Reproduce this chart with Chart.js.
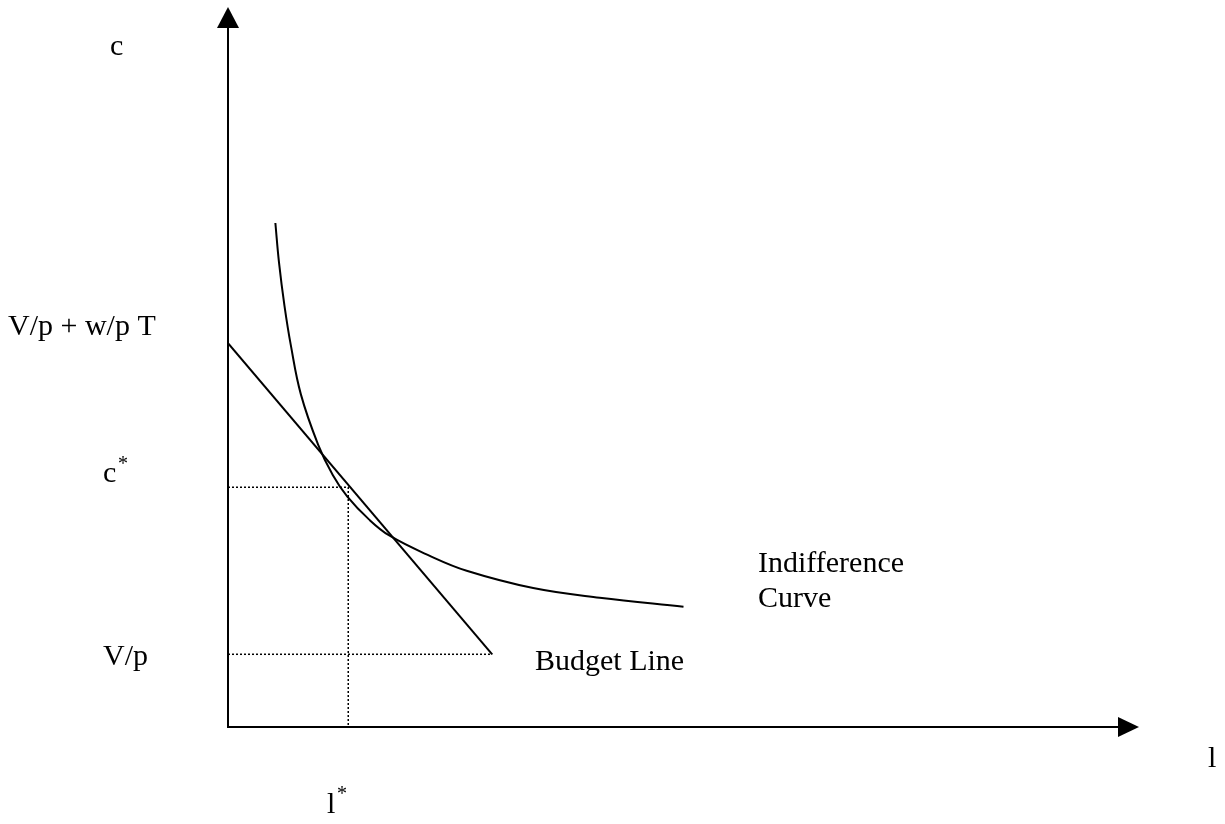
<!DOCTYPE html>
<html>
<head>
<meta charset="utf-8">
<script src="https://cdn.jsdelivr.net/npm/chart.js@4.4.1/dist/chart.umd.min.js"></script>
<style>
  html, body { margin: 0; padding: 0; background: #fff; }
  #wrap { width: 1225px; height: 824px; }
</style>
</head>
<body>
<div id="wrap"><canvas id="chart" width="1225" height="824"></canvas></div>
<script>
// leisure (l) on x, consumption (c) on y, arbitrary units 0..100
const budgetL = [0, 29];
const budgetC = [53.3, 10.1];

const indiffL = [5.2, 5.6, 6.2, 6.9, 8.0, 9.9, 11.5, 13.1, 15.5, 17.7, 22.1, 26.2, 33.5, 40.8, 50.0];
const indiffC = [70.0, 64.5, 58.5, 53.0, 46.2, 39.2, 35.0, 32.0, 28.8, 26.6, 23.8, 21.7, 19.3, 17.95, 16.7];

const optimumL = 13.2;   // l*
const optimumC = 33.3;   // c*
const nonLabour = 10.1;  // V/p

const axisMax = 100;

const toPoints = (xs, ys) => xs.map((x, i) => ({ x: x, y: ys[i] }));

const serif = '"Liberation Serif", "Times New Roman", serif';

// arrows + text drawn on top of the chart area
const sketchPlugin = {
  id: 'sketch',
  afterDatasetsDraw(chart) {
    const ctx = chart.ctx;
    const xs = chart.scales.x;
    const ys = chart.scales.y;
    const x0 = xs.getPixelForValue(0);
    const y0 = ys.getPixelForValue(0);
    const xEnd = xs.getPixelForValue(axisMax);
    const yEnd = ys.getPixelForValue(axisMax);

    ctx.save();
    ctx.strokeStyle = '#000';
    ctx.fillStyle = '#000';
    ctx.lineWidth = 2;

    // axes
    ctx.beginPath();
    ctx.moveTo(x0, yEnd + 20);
    ctx.lineTo(x0, y0);
    ctx.lineTo(xEnd - 20, y0);
    ctx.stroke();

    // arrow heads
    ctx.beginPath();
    ctx.moveTo(x0, yEnd);
    ctx.lineTo(x0 - 11, yEnd + 21);
    ctx.lineTo(x0 + 11, yEnd + 21);
    ctx.closePath();
    ctx.fill();

    ctx.beginPath();
    ctx.moveTo(xEnd, y0);
    ctx.lineTo(xEnd - 21, y0 - 10);
    ctx.lineTo(xEnd - 21, y0 + 10);
    ctx.closePath();
    ctx.fill();

    // labels
    ctx.textBaseline = 'alphabetic';
    ctx.textAlign = 'left';
    const big = '30px ' + serif;
    const sup = '20px ' + serif;

    ctx.font = big;
    ctx.fillText('c', 110, 55);
    ctx.fillText('V/p + w/p T', 8, 335);
    ctx.fillText('c', 103, 482);
    ctx.fillText('V/p', 103, 665);
    ctx.fillText('l', 1208, 767);
    ctx.fillText('l', 327, 813);
    ctx.fillText('Budget Line', 535, 670);
    ctx.fillText('Indifference', 758, 572);
    ctx.fillText('Curve', 758, 607);

    ctx.font = sup;
    ctx.fillText('*', 118, 470);
    ctx.fillText('*', 337, 800);
    ctx.restore();
  }
};

new Chart(document.getElementById('chart'), {
  type: 'scatter',
  data: {
    datasets: [
      {
        label: 'Budget Line',
        data: toPoints(budgetL, budgetC),
        showLine: true,
        borderColor: '#000',
        borderWidth: 2
      },
      {
        label: 'Indifference Curve',
        data: toPoints(indiffL, indiffC),
        showLine: true,
        borderColor: '#000',
        borderWidth: 2,
        tension: 0.4
      },
      {
        label: 'c* / l*',
        data: [
          { x: 0, y: optimumC },
          { x: optimumL, y: optimumC },
          { x: optimumL, y: 0 }
        ],
        showLine: true,
        borderColor: '#000',
        borderWidth: 1.5,
        borderDash: [2, 2]
      },
      {
        label: 'V/p',
        data: [
          { x: 0, y: nonLabour },
          { x: budgetL[1], y: nonLabour }
        ],
        showLine: true,
        borderColor: '#000',
        borderWidth: 1.5,
        borderDash: [2, 2]
      }
    ]
  },
  options: {
    responsive: false,
    animation: false,
    devicePixelRatio: 1,
    layout: {
      padding: { left: 228, right: 86, top: 7, bottom: 97 }
    },
    elements: {
      point: { radius: 0, hoverRadius: 0 }
    },
    scales: {
      x: { type: 'linear', min: 0, max: axisMax, display: false },
      y: { type: 'linear', min: 0, max: axisMax, display: false }
    },
    plugins: {
      legend: { display: false },
      tooltip: { enabled: false }
    }
  },
  plugins: [sketchPlugin]
});
</script>
</body>
</html>
